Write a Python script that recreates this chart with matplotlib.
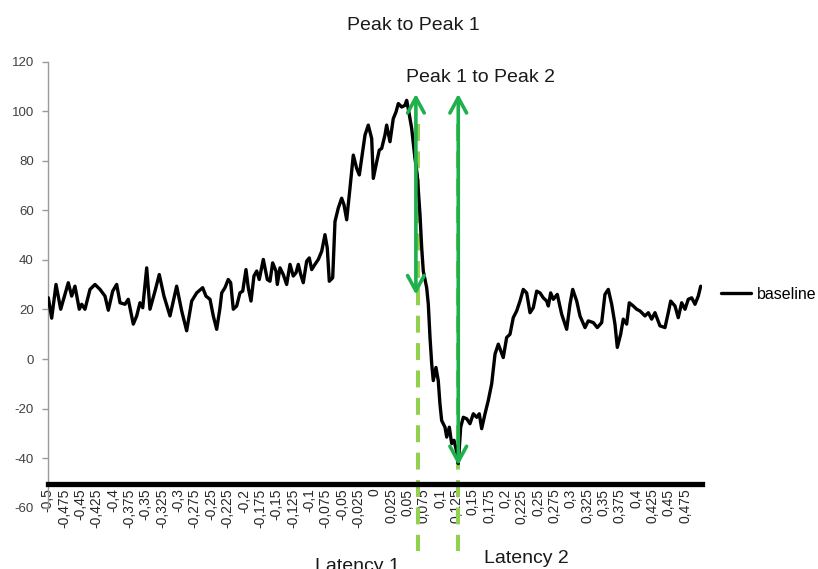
import matplotlib
matplotlib.use("Agg")
import matplotlib.pyplot as plt

plt.rcParams['font.family'] = ['Liberation Sans', 'DejaVu Sans']

# ---- data ----
x_vals = [-0.499, -0.4939, -0.4873, -0.4801, -0.4751, -0.4685, -0.4633, -0.4583, -0.4517, -0.448,
          -0.443, -0.4353, -0.4277, -0.42, -0.4124, -0.4073, -0.4006, -0.3945, -0.3894, -0.3818,
          -0.3768, -0.3691, -0.3639, -0.3589, -0.3547, -0.3486, -0.3436, -0.3359, -0.3294, -0.3222,
          -0.313, -0.3028, -0.2951, -0.2875, -0.2798, -0.2722, -0.263, -0.258, -0.2518, -0.2468,
          -0.2416, -0.2365, -0.2339, -0.2289, -0.2239, -0.2202, -0.2162, -0.211, -0.206, -0.2018,
          -0.1968, -0.1933, -0.1891, -0.1846, -0.1804, -0.1765, -0.1703, -0.1642, -0.1601, -0.156,
          -0.1509, -0.1489, -0.1448, -0.1398, -0.1346, -0.1295, -0.1245, -0.1203, -0.1168, -0.1131,
          -0.1092, -0.104, -0.1, -0.0963, -0.0913, -0.0862, -0.081, -0.076, -0.0725, -0.0694,
          -0.0642, -0.0607, -0.0557, -0.0505, -0.0469, -0.0428, -0.0378, -0.0327, -0.0275, -0.0235,
          -0.0199, -0.0148, -0.0098, -0.0046, -0.0021, 0.0031, 0.007, 0.0107, 0.0157, 0.0183,
          0.0234, 0.0284, 0.0326, 0.0361, 0.0413, 0.0463, 0.0489, 0.0514, 0.0566, 0.0616,
          0.0651, 0.0693, 0.0719, 0.0743, 0.0795, 0.082, 0.0846, 0.0872, 0.0896, 0.0937,
          0.0972, 0.0998, 0.1024, 0.1075, 0.1101, 0.1141, 0.1177, 0.1213, 0.1254, 0.1278,
          0.1315, 0.1355, 0.1407, 0.1457, 0.1508, 0.156, 0.1599, 0.1636, 0.1687, 0.1737,
          0.1789, 0.184, 0.189, 0.1966, 0.2018, 0.2069, 0.2119, 0.2171, 0.2222, 0.2272,
          0.2324, 0.2375, 0.2425, 0.2477, 0.2528, 0.2578, 0.263, 0.2655, 0.2691, 0.2731,
          0.2792, 0.2859, 0.2936, 0.2986, 0.3028, 0.3089, 0.3139, 0.3216, 0.3266, 0.3343,
          0.3404, 0.3471, 0.3521, 0.3572, 0.3624, 0.3674, 0.371, 0.3761, 0.3801, 0.3853,
          0.3893, 0.3954, 0.4006, 0.4057, 0.4133, 0.4184, 0.4235, 0.4286, 0.4362, 0.4439,
          0.4489, 0.4526, 0.4592, 0.4642, 0.4694, 0.4745, 0.4795, 0.4847, 0.4898, 0.4948,
          0.4985]
baseline = [24.7, 16.5, 30.1, 20.1, 24.7, 30.8, 25.4, 29.4, 20.1, 22.1,
            20.1, 28.1, 30.1, 28.1, 25.4, 19.7, 27.4, 30.1, 22.7, 22.1,
            24.1, 14.1, 17.4, 22.7, 20.7, 36.8, 20.1, 27.4, 34.1, 25.4,
            17.4, 29.4, 19.4, 11.4, 23.4, 26.7, 28.8, 25.4, 24.1, 17.4,
            12.0, 20.7, 26.7, 28.8, 32.1, 30.8, 20.1, 21.4, 26.7, 27.4,
            36.1, 28.8, 23.4, 33.5, 35.5, 32.1, 40.2, 32.1, 31.4, 38.8,
            35.5, 30.1, 36.8, 34.1, 30.1, 38.2, 33.5, 34.8, 38.2, 34.1,
            30.8, 39.5, 40.8, 36.1, 38.2, 40.2, 43.5, 50.2, 44.8, 31.4,
            32.8, 55.5, 60.9, 64.9, 62.2, 56.2, 68.9, 82.3, 76.9, 74.3,
            81.0, 90.4, 94.4, 89.0, 72.9, 79.6, 84.3, 85.0, 90.4, 94.4,
            87.7, 97.0, 99.7, 103.1, 101.7, 102.4, 104.4, 101.0, 93.0, 81.0,
            74.3, 58.2, 44.8, 35.5, 28.8, 22.1, 8.7, -2.0, -8.7, -3.4,
            -8.7, -18.1, -24.8, -27.5, -31.5, -27.5, -34.1, -32.8, -37.5, -42.2,
            -27.5, -23.5, -24.1, -26.1, -22.1, -23.5, -22.1, -28.1, -22.1, -16.7,
            -10.0, 2.0, 6.0, 0.6, 8.7, 10.0, 16.7, 19.4, 23.4, 28.1,
            26.7, 18.7, 20.7, 27.4, 26.7, 24.7, 23.4, 21.4, 26.7, 24.1,
            26.1, 18.1, 12.0, 22.1, 28.1, 23.4, 17.4, 12.7, 15.4, 14.7,
            12.7, 14.7, 26.1, 28.1, 22.1, 14.1, 4.7, 10.0, 16.1, 14.1,
            22.7, 21.4, 20.1, 19.4, 17.4, 18.7, 16.1, 18.7, 13.4, 12.7,
            18.7, 23.4, 21.4, 16.7, 22.7, 20.1, 24.1, 24.7, 22.1, 25.4,
            29.4]

x_ticks = [round(-0.5 + 0.025 * i, 3) for i in range(40)]
x_tick_labels = [('%g' % v).replace('.', ',') for v in x_ticks]
y_ticks = [-60, -40, -20, 0, 20, 40, 60, 80, 100, 120]

# annotation markers (latencies / peak-to-peak arrows)
latency_x = [0.0662, 0.1278]
arrow1 = (0.063, 26.0, 107.0)
arrow2 = (0.1278, -42.9, 107.0)

# ---- figure ----
fig = plt.figure(figsize=(8.18, 5.69), dpi=100)
ax = fig.add_axes([0.0583, 0.1077, 0.7995, 0.7839])

ax.plot(x_vals, baseline, color='black', lw=2.4, solid_joinstyle='round',
        solid_capstyle='round', label='baseline', zorder=3)

ax.set_xlim(-0.5, 0.5)
ax.set_ylim(-60, 120)

# spines first (set_position resets tick objects)
ax.spines['top'].set_visible(False)
ax.spines['right'].set_visible(False)
ax.spines['left'].set_color('#9a9a9a')
ax.spines['left'].set_linewidth(1.0)
ax.spines['bottom'].set_position(('data', -50.6))
ax.spines['bottom'].set_linewidth(3.8)
ax.spines['bottom'].set_color('black')

ax.set_xticks(x_ticks)
ax.set_xticklabels(x_tick_labels)
ax.set_yticks(y_ticks)
ax.set_yticklabels([str(v) for v in y_ticks])
ax.tick_params(axis='x', length=0, pad=3, labelrotation=90, labelsize=10,
               labelcolor='#262626')
ax.tick_params(axis='y', length=4, width=1, color='#9a9a9a', pad=6,
               labelsize=9.5, labelcolor='#404040')

# light-green dashed latency lines
for lx in latency_x:
    ax.plot([lx, lx], [95, -77.5], color='#92D050', lw=2.9, dashes=(4.2, 2.6),
            clip_on=False, zorder=2)

# green double arrows
for (axx, y0, y1) in (arrow1, arrow2):
    ax.annotate('', xy=(axx, y0), xytext=(axx, y1),
                arrowprops=dict(arrowstyle='<->,head_length=1.1,head_width=0.6',
                                mutation_scale=10, color='#1DB04B', lw=2.6,
                                shrinkA=0, shrinkB=0),
                zorder=4, annotation_clip=False)

# texts
fig.text(413 / 818, 1 - 30 / 569, 'Peak to Peak 1', ha='center', va='baseline',
         fontsize=14, color='#1a1a1a')
fig.text(481 / 818, 1 - 82 / 569, 'Peak 1 to Peak 2', ha='center', va='baseline',
         fontsize=14, color='#1a1a1a')
fig.text(357 / 818, 1 - 571 / 569, 'Latency 1', ha='center', va='baseline',
         fontsize=14, color='#1a1a1a')
fig.text(526 / 818, 1 - 563 / 569, 'Latency 2', ha='center', va='baseline',
         fontsize=14, color='#1a1a1a')

ax.legend(loc='center left', bbox_to_anchor=(1.02, 0.479), frameon=False,
          fontsize=11.5, handlelength=1.9, handletextpad=0.35, borderaxespad=0)

fig.savefig('out.png', dpi=100)
